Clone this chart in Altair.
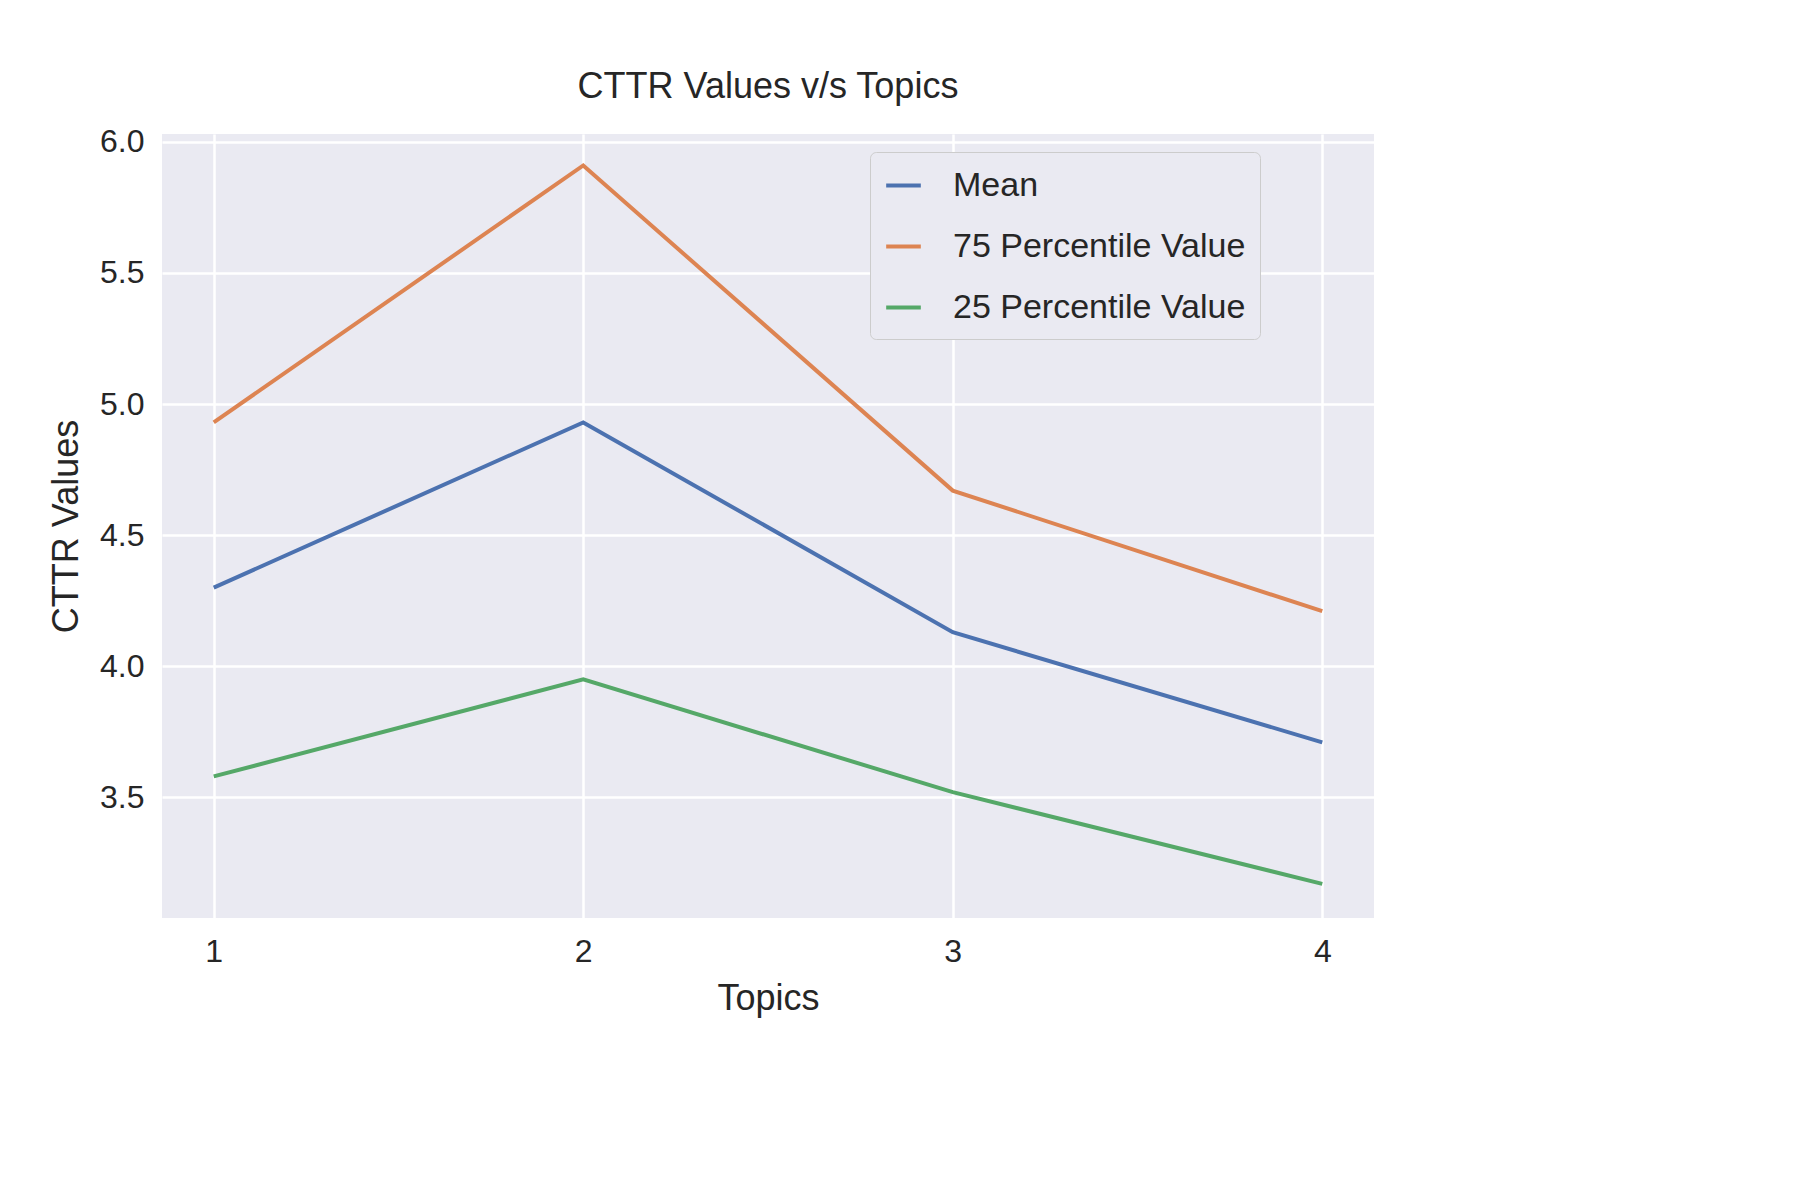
import altair as alt
import pandas as pd

topics = [1, 2, 3, 4]
mean_vals = [4.30, 4.93, 4.13, 3.71]
p75_vals = [4.93, 5.91, 4.67, 4.21]
p25_vals = [3.58, 3.95, 3.52, 3.17]
series = ["Mean", "75 Percentile Value", "25 Percentile Value"]
colors = ["#4c72b0", "#dd8452", "#55a868"]

rows = []
for name, vals in zip(series, [mean_vals, p75_vals, p25_vals]):
    for t, v in zip(topics, vals):
        rows.append({"topic": t, "value": v, "series": name})
df = pd.DataFrame(rows)

font = "Arial, Liberation Sans, sans-serif"
chart = (
    alt.Chart(df)
    .mark_line(strokeWidth=4, clip=True)
    .encode(
        x=alt.X("topic:Q", title="Topics",
                scale=alt.Scale(domain=[0.86, 4.14], nice=False, zero=False),
                axis=alt.Axis(values=topics, format="d")),
        y=alt.Y("value:Q", title="CTTR Values",
                scale=alt.Scale(domain=[3.04, 6.03], nice=False, zero=False),
                axis=alt.Axis(values=[3.5, 4.0, 4.5, 5.0, 5.5, 6.0], format=".1f")),
        color=alt.Color("series:N", sort=series,
                        scale=alt.Scale(domain=series, range=colors),
                        legend=alt.Legend(title=None, orient="none", legendX=708, legendY=18,
                                          symbolType="stroke", symbolStrokeWidth=4, symbolSize=1200,
                                          labelFontSize=34, labelFont=font, labelColor="#262626",
                                          labelLimit=0, labelOffset=30,
                                          rowPadding=24, padding=14, fillColor="#eaeaf2",
                                          strokeColor="#cccccc", cornerRadius=6)),
    )
    .properties(width=1212, height=784,
                padding={"left": 40, "top": 60, "right": 140, "bottom": 20},
                title=alt.Title("CTTR Values v/s Topics", fontSize=36, font=font,
                                fontWeight="normal", color="#262626", offset=20))
    .configure(background="white",
               view=alt.ViewConfig(fill="#eaeaf2", stroke=None),
               axis=alt.AxisConfig(domain=False, ticks=False, grid=True, gridColor="white",
                                   gridWidth=2.5, labelFontSize=32, labelFont=font,
                                   labelColor="#262626", labelPadding=18,
                                   titleFontSize=36, titleFont=font, titleFontWeight="normal",
                                   titleColor="#262626", titlePadding=14))
)
chart.save("out.html", embed_options={"renderer": "svg", "actions": False})
